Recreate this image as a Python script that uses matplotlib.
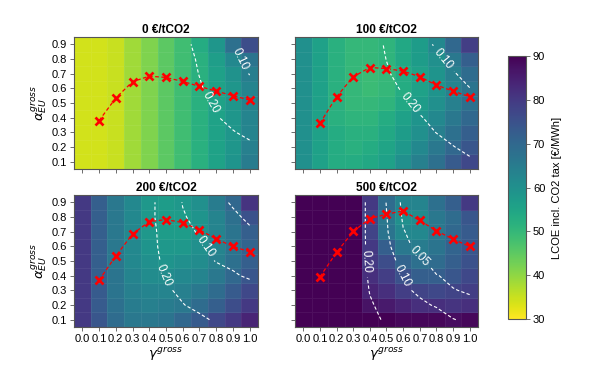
import numpy as np
import matplotlib
matplotlib.use("Agg")
import matplotlib.pyplot as plt

plt.rcParams['font.family'] = ['Liberation Sans', 'DejaVu Sans']

# grid axes
gamma = [0.0, 0.1, 0.2, 0.3, 0.4, 0.5, 0.6, 0.7, 0.8, 0.9, 1.0]
alpha = [0.1, 0.2, 0.3, 0.4, 0.5, 0.6, 0.7, 0.8, 0.9]
titles = ["0 €/tCO2", "100 €/tCO2", "200 €/tCO2", "500 €/tCO2"]

# LCOE incl. CO2 tax [€/MWh], rows = alpha 0.1 .. 0.9, cols = gamma 0.0 .. 1.0
lcoe_0 = [
    [34, 34, 35, 38.5, 41.5, 45, 48.5, 52, 55.5, 59, 65],
    [34, 34, 35, 38.5, 41.5, 45, 48.5, 52, 55.5, 58.5, 64],
    [34, 34, 35, 38.5, 41.5, 45, 48.5, 52, 55.5, 58.5, 63],
    [34, 34, 35, 38.5, 41.5, 45, 48.5, 52, 55.5, 58.5, 63],
    [34, 34, 35, 38.5, 41.5, 45, 48.5, 52, 55.5, 58.5, 63],
    [34, 34, 35, 38.5, 41.5, 45, 48.5, 52, 55.5, 58.5, 63],
    [34, 34, 35, 38.5, 41.5, 45, 48.5, 52, 56, 59.5, 64.5],
    [34, 34, 35, 38.5, 41.5, 45, 48.5, 52, 56.5, 62, 67],
    [34, 34, 35, 38.5, 41.5, 45, 48.5, 53, 58.5, 68, 76],
]
lcoe_100 = [
    [60, 56, 53, 53, 54, 56, 60, 64, 68, 73, 77],
    [60, 56, 53, 52, 53, 55, 58, 62, 66, 70, 74],
    [60, 56, 53, 52, 52, 54, 57, 60, 64, 68, 72],
    [60, 56, 52, 51, 51, 53, 56, 59, 62, 66, 70],
    [60, 56, 52, 50, 50, 51, 54, 57, 60, 64, 68],
    [60, 56, 52, 50, 49, 50, 53, 56, 59, 63, 67],
    [60, 56, 52, 50, 49, 50, 53, 56, 59, 64, 69],
    [60, 56, 52, 50, 50, 51, 54, 57, 60, 66, 72],
    [60, 56, 52, 50, 50, 51, 54, 57, 62, 70, 79],
]
lcoe_200 = [
    [80, 74, 69, 66, 66, 67, 70, 73, 77, 80, 84],
    [80, 73, 68, 65, 64, 65, 66, 69, 72, 76, 80],
    [80, 73, 67, 64, 63, 63, 64, 66, 69, 73, 77],
    [80, 72, 67, 63, 61, 61, 62, 63, 66, 70, 74],
    [80, 72, 66, 62, 60, 59, 60, 61, 64, 68, 72],
    [80, 72, 66, 62, 59, 58, 58, 60, 63, 67, 71],
    [80, 72, 66, 62, 58, 57, 57, 59, 63, 67, 72],
    [80, 72, 66, 62, 58, 57, 57, 59, 63, 68, 75],
    [80, 72, 66, 62, 58, 57, 58, 60, 65, 70, 81],
]
lcoe_500 = [
    [100, 100, 100, 100, 90, 90, 89, 89, 89, 88, 89],
    [100, 100, 100, 100, 87, 86, 84, 82, 82, 81, 82],
    [100, 100, 100, 100, 84, 82, 79, 78, 77, 78, 79],
    [100, 100, 100, 100, 82, 79, 75, 72, 72, 74, 77],
    [100, 100, 100, 100, 80, 76, 71, 68, 69, 72, 75],
    [100, 100, 100, 100, 80, 72, 66, 65, 67, 71, 74],
    [100, 100, 100, 100, 78, 67, 62, 62, 66, 70, 73],
    [100, 100, 100, 100, 78, 66, 60, 61, 66, 69, 74],
    [100, 100, 100, 100, 80, 69, 63, 63, 68, 72, 80],
]

# contoured share (white dashed lines), same grid
share_0 = [
    [0.50, 0.48, 0.46, 0.43, 0.40, 0.37, 0.34, 0.31, 0.29, 0.27, 0.25],
    [0.49, 0.47, 0.45, 0.42, 0.39, 0.36, 0.32, 0.29, 0.26, 0.235, 0.218],
    [0.48, 0.46, 0.44, 0.41, 0.38, 0.34, 0.29, 0.26, 0.23, 0.205, 0.18],
    [0.47, 0.45, 0.43, 0.40, 0.36, 0.32, 0.27, 0.24, 0.206, 0.175, 0.152],
    [0.46, 0.44, 0.42, 0.39, 0.35, 0.30, 0.255, 0.222, 0.19, 0.16, 0.135],
    [0.45, 0.43, 0.41, 0.38, 0.34, 0.29, 0.24, 0.207, 0.175, 0.145, 0.118],
    [0.44, 0.42, 0.40, 0.37, 0.33, 0.28, 0.231, 0.198, 0.166, 0.133, 0.098],
    [0.43, 0.41, 0.39, 0.36, 0.32, 0.27, 0.228, 0.191, 0.154, 0.117, 0.080],
    [0.42, 0.40, 0.38, 0.35, 0.31, 0.26, 0.219, 0.181, 0.142, 0.104, 0.065],
]
share_100 = [
    [0.50, 0.47, 0.44, 0.41, 0.37, 0.33, 0.30, 0.27, 0.236, 0.222, 0.208],
    [0.49, 0.46, 0.43, 0.40, 0.36, 0.32, 0.28, 0.234, 0.218, 0.202, 0.186],
    [0.48, 0.45, 0.42, 0.38, 0.34, 0.30, 0.26, 0.218, 0.199, 0.182, 0.166],
    [0.47, 0.44, 0.41, 0.37, 0.32, 0.245, 0.225, 0.204, 0.184, 0.164, 0.145],
    [0.46, 0.43, 0.40, 0.35, 0.29, 0.232, 0.209, 0.186, 0.164, 0.142, 0.12],
    [0.45, 0.42, 0.38, 0.33, 0.26, 0.218, 0.194, 0.171, 0.147, 0.124, 0.101],
    [0.44, 0.41, 0.36, 0.30, 0.232, 0.206, 0.181, 0.156, 0.13, 0.105, 0.08],
    [0.43, 0.40, 0.34, 0.28, 0.228, 0.199, 0.17, 0.141, 0.112, 0.083, 0.068],
    [0.42, 0.38, 0.32, 0.27, 0.227, 0.193, 0.159, 0.125, 0.092, 0.075, 0.062],
]
share_200 = [
    [0.50, 0.45, 0.40, 0.34, 0.29, 0.26, 0.235, 0.215, 0.19, 0.18, 0.172],
    [0.49, 0.44, 0.38, 0.32, 0.27, 0.225, 0.203, 0.18, 0.168, 0.158, 0.15],
    [0.48, 0.43, 0.36, 0.30, 0.235, 0.21, 0.185, 0.168, 0.155, 0.142, 0.13],
    [0.47, 0.42, 0.35, 0.28, 0.218, 0.197, 0.175, 0.152, 0.13, 0.108, 0.09],
    [0.46, 0.41, 0.34, 0.27, 0.22, 0.189, 0.158, 0.128, 0.097, 0.085, 0.078],
    [0.45, 0.40, 0.33, 0.27, 0.218, 0.182, 0.145, 0.109, 0.085, 0.075, 0.066],
    [0.44, 0.39, 0.32, 0.26, 0.22, 0.175, 0.13, 0.09, 0.076, 0.066, 0.056],
    [0.43, 0.38, 0.31, 0.26, 0.218, 0.165, 0.106, 0.08, 0.07, 0.058, 0.042],
    [0.42, 0.37, 0.30, 0.25, 0.222, 0.158, 0.097, 0.08, 0.063, 0.045, 0.035],
]
share_500 = [
    [0.50, 0.45, 0.38, 0.31, 0.22, 0.19, 0.16, 0.14, 0.125, 0.102, 0.09],
    [0.50, 0.45, 0.38, 0.30, 0.21, 0.17, 0.135, 0.11, 0.095, 0.075, 0.062],
    [0.50, 0.45, 0.38, 0.29, 0.195, 0.15, 0.11, 0.09, 0.07, 0.052, 0.045],
    [0.50, 0.45, 0.37, 0.28, 0.185, 0.13, 0.098, 0.075, 0.052, 0.04, 0.034],
    [0.50, 0.45, 0.37, 0.28, 0.175, 0.12, 0.085, 0.06, 0.03, 0.028, 0.025],
    [0.50, 0.45, 0.37, 0.28, 0.172, 0.11, 0.07, 0.03, 0.025, 0.022, 0.02],
    [0.50, 0.45, 0.37, 0.28, 0.17, 0.105, 0.052, 0.035, 0.03, 0.025, 0.02],
    [0.50, 0.45, 0.37, 0.28, 0.17, 0.102, 0.045, 0.032, 0.027, 0.023, 0.02],
    [0.50, 0.45, 0.37, 0.28, 0.17, 0.098, 0.04, 0.03, 0.025, 0.022, 0.02],
]
share_levels = [0.05, 0.10, 0.20]

# cost-optimal alpha per gamma (red crosses)
gamma_opt = [0.1, 0.2, 0.3, 0.4, 0.5, 0.6, 0.7, 0.8, 0.9, 1.0]
alpha_opt_0 = [0.38, 0.534, 0.645, 0.683, 0.674, 0.647, 0.613, 0.581, 0.55, 0.52]
alpha_opt_100 = [0.362, 0.543, 0.679, 0.742, 0.735, 0.717, 0.679, 0.622, 0.581, 0.543]
alpha_opt_200 = [0.369, 0.534, 0.683, 0.769, 0.782, 0.762, 0.712, 0.651, 0.599, 0.563]
alpha_opt_500 = [0.392, 0.559, 0.701, 0.789, 0.819, 0.841, 0.776, 0.706, 0.649, 0.599]

lcoe_all = [lcoe_0, lcoe_100, lcoe_200, lcoe_500]
share_all = [share_0, share_100, share_200, share_500]
opt_all = [alpha_opt_0, alpha_opt_100, alpha_opt_200, alpha_opt_500]

fig = plt.figure(figsize=(5.98, 3.74), dpi=100)
positions = [
    [0.1237, 0.5481, 0.3077, 0.3530],
    [0.4933, 0.5481, 0.3060, 0.3530],
    [0.1237, 0.1257, 0.3077, 0.3530],
    [0.4933, 0.1257, 0.3060, 0.3530],
]

g = np.array(gamma)
a = np.array(alpha)
g_edges = np.append(g - 0.05, g[-1] + 0.05)
a_edges = np.append(a - 0.05, a[-1] + 0.05)

mesh = None
for i, pos in enumerate(positions):
    ax = fig.add_axes(pos)
    mesh = ax.pcolormesh(g_edges, a_edges, np.array(lcoe_all[i]), cmap='viridis_r',
                         vmin=30, vmax=90, edgecolors=(1, 1, 1, 0.06), linewidth=0.4)
    cs = ax.contour(g, a, np.array(share_all[i]), levels=share_levels, colors='white',
                    linestyles=[(0, (3, 2))], linewidths=0.8)
    ax.clabel(cs, fmt='%.2f', fontsize=8.5, inline=True)
    ax.plot(gamma_opt, opt_all[i], color='red', linestyle=(0, (3, 2)), linewidth=0.9,
            marker='x', markersize=5.5, markeredgewidth=1.9)

    ax.set_xlim(g_edges[0], g_edges[-1])
    ax.set_ylim(a_edges[0], a_edges[-1])
    ax.set_xticks(gamma)
    ax.set_yticks(alpha)
    ax.set_title(titles[i], fontsize=8.5, fontweight='bold', pad=3)
    ax.tick_params(direction='out', length=3, width=0.6, color='#555555',
                   labelsize=8, pad=2)
    for sp in ax.spines.values():
        sp.set_color('#555555')
        sp.set_linewidth(0.8)

    if i in (0, 2):
        ax.set_yticklabels([f"{v:.1f}" for v in alpha])
        ax.set_ylabel(r'$\alpha_{EU}^{gross}$', fontsize=9.5, labelpad=2)
    else:
        ax.set_yticklabels([])
    if i in (2, 3):
        ax.set_xticklabels([f"{v:.1f}" for v in gamma])
        ax.set_xlabel(r'$\gamma^{gross}$', fontsize=9.5, labelpad=1)
    else:
        ax.set_xticklabels([])

cax = fig.add_axes([0.8495, 0.147, 0.030, 0.703])
cb = fig.colorbar(mesh, cax=cax)
cb.set_ticks([30, 40, 50, 60, 70, 80, 90])
cb.ax.tick_params(labelsize=8, length=3, width=0.6, color='#555555', pad=2)
cb.outline.set_edgecolor('#555555')
cb.set_label('LCOE incl. CO2 tax [€/MWh]', fontsize=8, labelpad=5)

fig.savefig('out.png', dpi=100)
